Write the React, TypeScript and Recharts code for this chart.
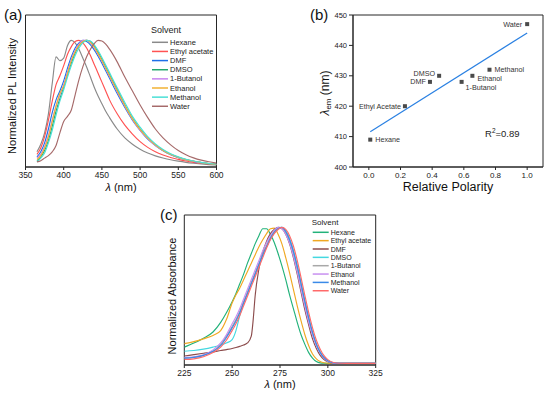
import React from 'react';
import { LineChart, Line, XAxis, YAxis, ReferenceArea, ScatterChart, Scatter } from 'recharts';

const FONT = '"Liberation Sans", Arial, Helvetica, sans-serif';
const AXIS = '#262626';

// ---------- (a) PL emission spectra ----------
const PL_WAVELENGTH = [365, 370, 375, 380, 385, 390, 395, 400, 405, 410, 415, 420, 425, 430, 435, 440, 445, 450, 455, 460, 470, 480, 490, 500, 510, 520, 530, 540, 550, 560, 570, 580, 590, 600];
const PL_HEXANE = [0.12, 0.18, 0.27, 0.42, 0.66, 0.87, 0.84, 0.86, 0.96, 1.0, 0.98, 0.93, 0.86, 0.79, 0.71, 0.63, 0.56, 0.5, 0.44, 0.39, 0.3, 0.23, 0.18, 0.14, 0.11, 0.088, 0.071, 0.057, 0.046, 0.037, 0.03, 0.024, 0.019, 0.015];
const PL_ETHYL_ACETATE = [0.1, 0.15, 0.24, 0.37, 0.52, 0.65, 0.72, 0.8, 0.89, 0.95, 0.99, 1.0, 0.98, 0.94, 0.88, 0.81, 0.74, 0.67, 0.6, 0.53, 0.42, 0.33, 0.26, 0.2, 0.155, 0.12, 0.095, 0.075, 0.06, 0.047, 0.037, 0.03, 0.024, 0.019];
const PL_DMF = [0.08, 0.12, 0.19, 0.3, 0.43, 0.53, 0.6, 0.68, 0.78, 0.87, 0.94, 0.98, 1.0, 0.99, 0.965, 0.925, 0.875, 0.82, 0.76, 0.7, 0.58, 0.47, 0.37, 0.29, 0.22, 0.17, 0.128, 0.097, 0.074, 0.057, 0.044, 0.034, 0.027, 0.021];
const PL_DMSO = [0.05, 0.08, 0.13, 0.21, 0.32, 0.44, 0.54, 0.63, 0.73, 0.82, 0.9, 0.96, 0.99, 1.0, 0.99, 0.955, 0.905, 0.85, 0.79, 0.73, 0.61, 0.49, 0.385, 0.3, 0.23, 0.175, 0.133, 0.1, 0.077, 0.059, 0.045, 0.035, 0.027, 0.021];
const PL_BUTANOL = [0.07, 0.1, 0.16, 0.25, 0.37, 0.48, 0.57, 0.65, 0.75, 0.85, 0.92, 0.97, 1.0, 1.0, 0.98, 0.94, 0.89, 0.835, 0.775, 0.715, 0.595, 0.48, 0.375, 0.29, 0.225, 0.17, 0.13, 0.098, 0.075, 0.057, 0.044, 0.034, 0.027, 0.021];
const PL_ETHANOL = [0.06, 0.09, 0.15, 0.24, 0.36, 0.48, 0.58, 0.64, 0.74, 0.84, 0.91, 0.96, 0.99, 1.0, 0.985, 0.945, 0.895, 0.84, 0.78, 0.72, 0.6, 0.485, 0.38, 0.295, 0.228, 0.173, 0.131, 0.099, 0.076, 0.058, 0.045, 0.035, 0.027, 0.021];
const PL_METHANOL = [0.04, 0.07, 0.11, 0.19, 0.29, 0.41, 0.52, 0.61, 0.71, 0.8, 0.88, 0.94, 0.98, 1.0, 0.995, 0.965, 0.92, 0.865, 0.805, 0.745, 0.625, 0.51, 0.4, 0.315, 0.24, 0.183, 0.139, 0.105, 0.08, 0.061, 0.047, 0.036, 0.028, 0.022];
const PL_WATER = [0.04, 0.05, 0.07, 0.09, 0.12, 0.17, 0.27, 0.36, 0.4, 0.45, 0.57, 0.69, 0.79, 0.87, 0.93, 0.975, 1.0, 0.995, 0.97, 0.93, 0.83, 0.71, 0.6, 0.49, 0.39, 0.3, 0.23, 0.175, 0.13, 0.097, 0.072, 0.054, 0.041, 0.031];
const PL_SOLVENTS = ['Hexane', 'Ethyl acetate', 'DMF', 'DMSO', '1-Butanol', 'Ethanol', 'Methanol', 'Water'];
const PL_SERIES = [PL_HEXANE, PL_ETHYL_ACETATE, PL_DMF, PL_DMSO, PL_BUTANOL, PL_ETHANOL, PL_METHANOL, PL_WATER];
const PL_COLORS = ['#8a8a8a', '#ff5252', '#1f6fe8', '#22a86c', '#c884f0', '#f2b234', '#4ae0d6', '#a66a6a'];
const PL_TICKS = [350, 400, 450, 500, 550, 600];

// ---------- (b) emission max vs polarity ----------
const POLARITY_SOLVENTS = ['Hexane', 'Ethyl Acetate', 'DMF', 'DMSO', '1-Butanol', 'Ethanol', 'Methanol', 'Water'];
const RELATIVE_POLARITY = [0.009, 0.228, 0.386, 0.444, 0.586, 0.654, 0.762, 1.0];
const EMISSION_MAX = [409, 420, 428, 430, 428, 430, 432, 447];
const FIT_X = [0.009, 1.0];
const FIT_Y = [411.6, 444.1];
const POLARITY_TICKS = [0, 0.2, 0.4, 0.6, 0.8, 1.0];
const EM_TICKS = [400, 410, 420, 430, 440, 450];
const R_SQUARED = '0.89';

// ---------- (c) absorbance spectra ----------
const ABS_WAVELENGTH = [225, 230, 235, 240, 244, 247, 250, 252, 254, 256, 258, 260, 261, 262, 264, 266, 268, 270, 272, 274, 276, 278, 280, 282, 284, 286, 288, 290, 292, 294, 296, 298, 300, 303, 306, 310, 315, 320, 325];
const ABS_HEXANE = [0.13, 0.16, 0.195, 0.24, 0.31, 0.38, 0.46, 0.52, 0.59, 0.66, 0.74, 0.81, 0.845, 0.88, 0.94, 0.99, 0.99, 0.95, 0.89, 0.81, 0.72, 0.62, 0.51, 0.41, 0.31, 0.22, 0.15, 0.09, 0.05, 0.025, 0.015, 0.013, 0.012, 0.012, 0.012, 0.012, 0.012, 0.012, 0.012];
const ABS_ETHYL_ACETATE = [0.155, 0.17, 0.19, 0.215, 0.25, 0.33, 0.45, 0.51, 0.56, 0.62, 0.68, 0.74, 0.77, 0.8, 0.86, 0.91, 0.955, 0.99, 0.995, 0.95, 0.88, 0.78, 0.67, 0.55, 0.43, 0.32, 0.22, 0.14, 0.08, 0.045, 0.025, 0.016, 0.013, 0.012, 0.012, 0.012, 0.012, 0.012, 0.012];
const ABS_DMF = [0.065, 0.075, 0.085, 0.095, 0.105, 0.112, 0.12, 0.127, 0.135, 0.145, 0.16, 0.21, 0.33, 0.5, 0.7, 0.82, 0.9, 0.955, 0.985, 1.0, 0.99, 0.95, 0.88, 0.78, 0.66, 0.53, 0.4, 0.29, 0.19, 0.12, 0.07, 0.04, 0.024, 0.014, 0.012, 0.012, 0.012, 0.012, 0.012];
const ABS_DMSO = [0.1, 0.105, 0.115, 0.13, 0.145, 0.16, 0.185, 0.25, 0.36, 0.45, 0.52, 0.59, 0.62, 0.655, 0.725, 0.795, 0.86, 0.915, 0.96, 0.99, 1.0, 0.975, 0.92, 0.835, 0.725, 0.6, 0.47, 0.35, 0.24, 0.155, 0.095, 0.055, 0.032, 0.016, 0.012, 0.012, 0.012, 0.012, 0.012];
const ABS_BUTANOL = [0.05, 0.055, 0.07, 0.1, 0.15, 0.21, 0.28, 0.33, 0.39, 0.46, 0.53, 0.6, 0.635, 0.67, 0.74, 0.81, 0.87, 0.93, 0.97, 0.995, 0.995, 0.96, 0.895, 0.805, 0.69, 0.565, 0.44, 0.325, 0.225, 0.145, 0.09, 0.052, 0.03, 0.015, 0.012, 0.012, 0.012, 0.012, 0.012];
const ABS_ETHANOL = [0.055, 0.06, 0.075, 0.11, 0.16, 0.22, 0.3, 0.35, 0.41, 0.48, 0.55, 0.62, 0.655, 0.69, 0.76, 0.83, 0.89, 0.94, 0.98, 1.0, 0.99, 0.95, 0.885, 0.79, 0.675, 0.55, 0.425, 0.31, 0.215, 0.14, 0.085, 0.049, 0.028, 0.014, 0.012, 0.012, 0.012, 0.012, 0.012];
const ABS_METHANOL = [0.05, 0.055, 0.07, 0.1, 0.14, 0.2, 0.27, 0.32, 0.38, 0.45, 0.52, 0.59, 0.625, 0.66, 0.73, 0.8, 0.86, 0.92, 0.965, 0.99, 1.0, 0.97, 0.91, 0.825, 0.715, 0.59, 0.46, 0.34, 0.235, 0.15, 0.092, 0.054, 0.031, 0.015, 0.012, 0.012, 0.012, 0.012, 0.012];
const ABS_WATER = [0.04, 0.045, 0.06, 0.09, 0.13, 0.18, 0.25, 0.3, 0.36, 0.43, 0.5, 0.57, 0.605, 0.64, 0.71, 0.78, 0.85, 0.91, 0.955, 0.985, 1.0, 0.985, 0.94, 0.865, 0.76, 0.635, 0.505, 0.38, 0.27, 0.18, 0.115, 0.068, 0.039, 0.018, 0.013, 0.012, 0.012, 0.012, 0.012];
const ABS_SOLVENTS = ['Hexane', 'Ethyl acetate', 'DMF', 'DMSO', '1-Butanol', 'Ethanol', 'Methanol', 'Water'];
const ABS_SERIES = [ABS_HEXANE, ABS_ETHYL_ACETATE, ABS_DMF, ABS_DMSO, ABS_BUTANOL, ABS_ETHANOL, ABS_METHANOL, ABS_WATER];
const ABS_COLORS = ['#22b27a', '#f0a822', '#8c4c4c', '#44d8e0', '#a8a8a8', '#c890f0', '#3a8ae8', '#ff6a6a'];
const ABS_TICKS = [225, 250, 275, 300, 325];

// label placement style for panel (b) annotations
const LABEL_STYLE: Record<string, { anchor: 'start' | 'end'; dx: number; dy: number }> = {
  Hexane: { anchor: 'start', dx: 5, dy: 0 },
  'Ethyl Acetate': { anchor: 'end', dx: -4, dy: 0 },
  DMF: { anchor: 'end', dx: -4, dy: 0 },
  DMSO: { anchor: 'end', dx: -4, dy: -2 },
  '1-Butanol': { anchor: 'start', dx: 4, dy: 6 },
  Ethanol: { anchor: 'start', dx: 5, dy: 3 },
  Methanol: { anchor: 'start', dx: 5, dy: 0 },
  Water: { anchor: 'end', dx: -5, dy: 0 },
};

const plData = PL_WAVELENGTH.map((x, i) => {
  const row: Record<string, number> = { x };
  PL_SERIES.forEach((s, k) => { row['s' + k] = s[i]; });
  return row;
});
const absData = ABS_WAVELENGTH.map((x, i) => {
  const row: Record<string, number> = { x };
  ABS_SERIES.forEach((s, k) => { row['s' + k] = s[i]; });
  return row;
});
const points = POLARITY_SOLVENTS.map((name, i) => ({ name, x: RELATIVE_POLARITY[i], y: EMISSION_MAX[i] }));
const fitLine = FIT_X.map((x, i) => ({ x, y: FIT_Y[i] }));

const tickStyle = (size: number) => ({ fontSize: size, fill: '#222', fontFamily: FONT });

const PointShape = (p: any) => {
  const st = LABEL_STYLE[p.payload.name];
  return (
    <g>
      <rect x={p.cx - 2} y={p.cy - 2} width={4} height={4} fill="#4a4a4a" />
      <text x={p.cx + st.dx} y={p.cy + st.dy} textAnchor={st.anchor} dominantBaseline="central"
        fontSize={7.2} fontFamily={FONT} fill="#333">{p.payload.name}</text>
    </g>
  );
};

const Legend = ({ x, y0, step, titleY, names, colors, size, titleSize }: any) => (
  <g fontFamily={FONT}>
    <text x={x - 1} y={titleY} fontSize={titleSize} fill="#222" dominantBaseline="central">Solvent</text>
    {names.map((n: string, i: number) => (
      <g key={n}>
        <line x1={x} x2={x + 16} y1={y0 + i * step} y2={y0 + i * step} stroke={colors[i]} strokeWidth={1.5} />
        <text x={x + 18} y={y0 + i * step} fontSize={size} fill="#222" dominantBaseline="central">{n}</text>
      </g>
    ))}
  </g>
);

export default function App() {
  return (
    <div style={{ position: 'absolute', left: 0, top: 0, width: 550, height: 397, background: '#fff', overflow: 'hidden' }}>
      {/* (a) */}
      <div style={{ position: 'absolute', left: 0, top: 0 }}>
        <LineChart width={275} height={200} data={plData} margin={{ top: 15, right: 58.5, bottom: 3, left: 25.5 }}>
          <XAxis dataKey="x" type="number" domain={[350, 600]} ticks={PL_TICKS} tickSize={3} tickMargin={2}
            stroke={AXIS} tick={tickStyle(8.5)} height={30} allowDataOverflow />
          <YAxis type="number" domain={[0, 1.2]} hide allowDataOverflow />
          <ReferenceArea x1={350} x2={600} y1={0} y2={1.2} fill="none" stroke={AXIS} strokeWidth={1} ifOverflow="visible" />
          {PL_SOLVENTS.map((n, k) => (
            <Line key={n} name={n} dataKey={'s' + k} type="monotone" stroke={PL_COLORS[k]} strokeWidth={1.15}
              dot={false} isAnimationActive={false} />
          ))}
        </LineChart>
      </div>

      {/* (b) */}
      <div style={{ position: 'absolute', left: 275, top: 0 }}>
        <ScatterChart width={275} height={200} margin={{ top: 15, right: 7, bottom: 3, left: 38 }}>
          <XAxis dataKey="x" type="number" domain={[-0.1, 1.1]} ticks={POLARITY_TICKS} tickFormatter={(v: number) => v.toFixed(1)}
            tickSize={3} tickMargin={2} stroke={AXIS} tick={tickStyle(8)} height={30} allowDataOverflow />
          <YAxis dataKey="y" type="number" domain={[400, 450]} ticks={EM_TICKS} width={40} tickSize={4} tickMargin={2}
            stroke={AXIS} tick={tickStyle(7.5)} allowDataOverflow />
          <ReferenceArea x1={-0.1} x2={1.1} y1={400} y2={450} fill="none" stroke={AXIS} strokeWidth={1} ifOverflow="visible" />
          <Scatter data={fitLine} line={{ stroke: '#2a80e2', strokeWidth: 1.2 }} shape={() => <g />} isAnimationActive={false} legendType="none" />
          <Scatter data={points} shape={PointShape} isAnimationActive={false} />
        </ScatterChart>
      </div>

      {/* (c) */}
      <div style={{ position: 'absolute', left: 130, top: 195 }}>
        <LineChart width={275} height={202} data={absData} margin={{ top: 20, right: 29.3, bottom: 2, left: 54.3 }}>
          <XAxis dataKey="x" type="number" domain={[225, 325]} ticks={ABS_TICKS} tickSize={3} tickMargin={2}
            stroke={AXIS} tick={tickStyle(8.5)} height={30} allowDataOverflow />
          <YAxis type="number" domain={[0, 1.09]} hide allowDataOverflow />
          <ReferenceArea x1={225} x2={325} y1={0} y2={1.09} fill="none" stroke={AXIS} strokeWidth={1} ifOverflow="visible" />
          {ABS_SOLVENTS.map((n, k) => (
            <Line key={n} name={n} dataKey={'s' + k} type="monotone" stroke={ABS_COLORS[k]} strokeWidth={1.15}
              dot={false} isAnimationActive={false} />
          ))}
        </LineChart>
      </div>

      {/* titles, panel letters, legends */}
      <svg width={550} height={397} style={{ position: 'absolute', left: 0, top: 0, pointerEvents: 'none' }} fontFamily={FONT}>
        <text x={4} y={20} fontSize={15} fill="#111">(a)</text>
        <text x={310} y={20} fontSize={15} fill="#111">(b)</text>
        <text x={160} y={220} fontSize={15} fill="#111">(c)</text>

        <text transform="rotate(-90, 12, 96)" x={12} y={96} fontSize={11} textAnchor="middle" dominantBaseline="central" fill="#111">Normalized PL Intensity</text>
        <text x={121} y={190.5} fontSize={11} textAnchor="middle" fill="#111"><tspan fontStyle="italic">λ</tspan> (nm)</text>

        <text transform="rotate(-90, 325, 93)" x={325} y={93} fontSize={12} textAnchor="middle" dominantBaseline="central" fill="#111">
          <tspan fontStyle="italic">λ</tspan><tspan fontSize={8} dy={3}>em</tspan><tspan dy={-3}> (nm)</tspan>
        </text>
        <text x={448} y={191} fontSize={12.5} textAnchor="middle" fill="#111">Relative Polarity</text>
        <text x={485} y={137} fontSize={9.5} fill="#222">R<tspan fontSize={6.5} dy={-4}>2</tspan><tspan dy={4}>={R_SQUARED}</tspan></text>

        <text transform="rotate(-90, 171.7, 296)" x={171.7} y={296} fontSize={11} textAnchor="middle" dominantBaseline="central" fill="#111">Normalized Absorbance</text>
        <text x={280} y={388} fontSize={11} textAnchor="middle" fill="#111"><tspan fontStyle="italic">λ</tspan> (nm)</text>

        <Legend x={152} y0={42.3} step={9.14} titleY={30} names={PL_SOLVENTS} colors={PL_COLORS} size={7.5} titleSize={9} />
        <Legend x={312.7} y0={232.3} step={8.35} titleY={222.3} names={ABS_SOLVENTS} colors={ABS_COLORS} size={7} titleSize={8} />
      </svg>
    </div>
  );
}
